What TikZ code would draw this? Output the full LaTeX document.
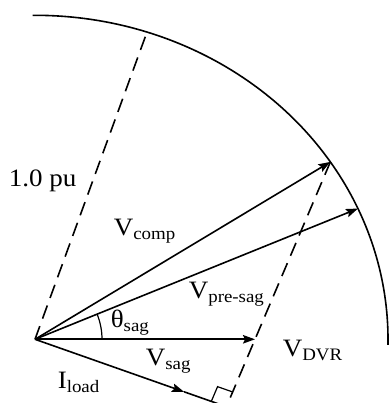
\documentclass[tikz,border=0pt]{standalone}
\usepackage{fontspec}
\setmainfont{Liberation Serif}[FakeStretch=1.08]
\usetikzlibrary{arrows.meta,calc}

\begin{document}
\begin{tikzpicture}[
    x=1pt, y=1pt,
    line width=1.6pt,
    vec/.style={-{Stealth[length=12pt,width=8.5pt,inset=2pt]}}, % phasor arrows
    guide/.style={dash pattern=on 14pt off 8pt},
    lbl/.style={anchor=base west, inner sep=0pt, font=\fontsize{25}{30}\selectfont}
  ]
  \useasboundingbox (-35,-63.7) rectangle (355,339.3);
  % phasor end points
  \coordinate (O) at (0,0);
  \coordinate (comp) at (33.2:353 and 324);
  \coordinate (pre) at (23.8:353 and 324);
  \coordinate (pu) at (71.5:353 and 324);
  \coordinate (sag) at (220,0);
  \coordinate (load) at (-19.4:158);
  \coordinate (foot) at (intersection of comp--sag and O--load);

  % 1.0 pu locus
  \draw (90.4:353 and 324) arc[start angle=90.4, end angle=-1, x radius=353, y radius=324];
  \draw[guide] (O) -- (pu);

  % phasors
  \draw[vec] (O) -- (comp);
  \draw[vec] (O) -- (pre);
  \draw[vec] (O) -- (sag);
  \draw[vec] (O) -- (load);
  \draw (load) -- (foot);
  \draw[guide] (comp) -- (foot);

  % right angle mark
  \coordinate (m1) at ($(foot)!16pt!(comp)$);
  \coordinate (m2) at ($(foot)!16pt!(O)$);
  \draw[line width=1.2pt] (m1) -- ($(m1)+(m2)-(foot)$) -- (m2);

  % sag angle
  \draw[line width=1.2pt] (67,0) arc[start angle=0, end angle=22, radius=67];

  % labels
  \node[lbl] (lpu) at (-27,153) {1.0 pu};
  \node[lbl] (lcomp) at (78,104) {V\textsubscript{comp}};
  \node[lbl] (lpre) at (153,41) {V\textsubscript{pre-sag}};
  \node[lbl] (lth) at (75,12) {θ\textsubscript{sag}};
  \node[lbl] (lsag) at (110,-26) {V\textsubscript{sag}};
  \node[lbl] (ldvr) at (247,-17) {V\textsubscript{DVR}};
  \node[lbl] (lload) at (22,-49) {I\textsubscript{load}};
\end{tikzpicture}
\end{document}
